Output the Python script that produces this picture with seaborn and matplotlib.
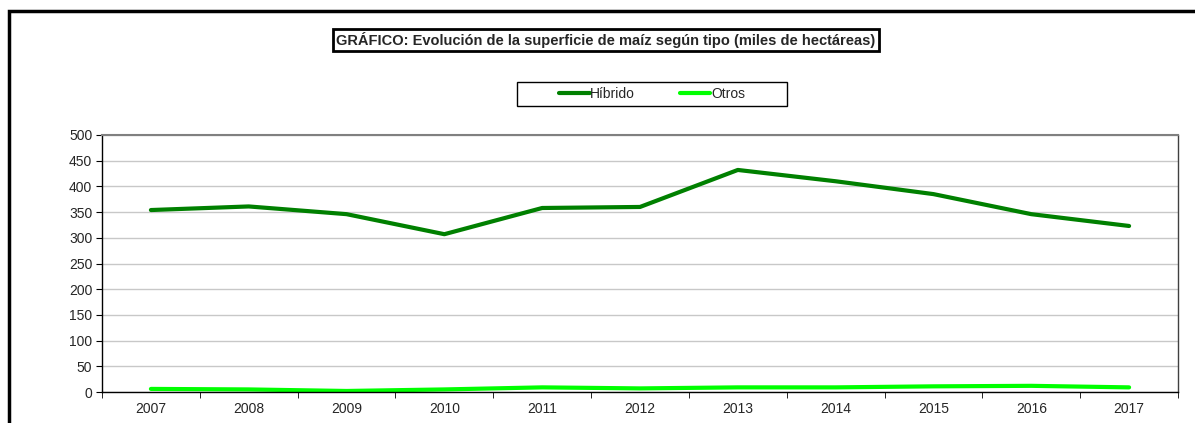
import matplotlib
matplotlib.use("Agg")
import matplotlib.pyplot as plt
import matplotlib.patches as mpatches
import seaborn as sns
import pandas as pd
import numpy as np

years = ["2007", "2008", "2009", "2010", "2011", "2012", "2013", "2014", "2015", "2016", "2017"]
hibrido = [354, 361, 346, 307, 358, 360, 432, 410, 385, 346, 323]
otros = [6, 5, 2, 5, 9, 7, 9, 9, 11, 12, 9]

sns.set_style("white")
plt.rcParams['font.family'] = ['Liberation Sans', 'DejaVu Sans']

df = pd.DataFrame({"pos": np.arange(len(years)), "Híbrido": hibrido, "Otros": otros})
long = df.melt(id_vars="pos", var_name="tipo", value_name="valor")

W, H = 1195, 423
fig = plt.figure(figsize=(W / 100, H / 100), dpi=100)
ax = fig.add_axes([102 / W, 1 - 392 / H, (1178 - 102) / W, (392 - 135) / H])

sns.lineplot(data=long, x="pos", y="valor", hue="tipo",
             palette={"Híbrido": "#008000", "Otros": "#00ff00"},
             linewidth=3, ax=ax, legend=False)

ax.set_xlim(-0.5, len(years) - 0.5)
ax.set_ylim(0, 500)
ax.set_yticks(range(0, 501, 50))
ax.set_xticks(np.arange(len(years)))
ax.set_xticklabels(years)
ax.set_xticks(np.arange(-0.5, len(years), 1), minor=True)
ax.tick_params(axis="x", which="major", length=0, labelsize=10, pad=7)
ax.tick_params(axis="x", which="minor", length=4, color="black", direction="out", bottom=True)
ax.tick_params(axis="y", length=4, color="black", labelsize=10, left=True, direction="out", pad=3)
ax.set_xlabel("")
ax.set_ylabel("")
ax.yaxis.grid(True, color="#c8c8c8", linewidth=1)
ax.set_axisbelow(True)

ax.spines["left"].set_color("black")
ax.spines["bottom"].set_color("black")
ax.spines["top"].set_color("#808080")
ax.spines["right"].set_color("#404040")
for s in ax.spines.values():
    s.set_linewidth(1)
ax.spines["top"].set_linewidth(1.5)

# outer chart border (left and top visible)
border = mpatches.Rectangle((9 / W, -0.05), 1.2, 1 - 11 / H + 0.05,
                            transform=fig.transFigure, fill=False,
                            edgecolor="black", linewidth=2.5)
fig.patches.append(border)

fig.text(606 / W, 1 - 40 / H,
         "GRÁFICO: Evolución de la superficie de maíz según tipo (miles de hectáreas)",
         ha="center", va="center", fontsize=10.5, fontweight="bold",
         bbox=dict(boxstyle="square,pad=0.2", facecolor="white",
                   edgecolor="black", linewidth=2))

# legend frame
frame = mpatches.Rectangle((517 / W, 1 - 106 / H), 270 / W, 24 / H,
                           transform=fig.transFigure, fill=False,
                           edgecolor="black", linewidth=1)
fig.patches.append(frame)

handles = [plt.Line2D([], [], color="#008000", linewidth=3),
           plt.Line2D([], [], color="#00ff00", linewidth=3)]
fig.legend(handles, ["Híbrido", "Otros"], loc="center",
           bbox_to_anchor=(652 / W, 1 - 94 / H), ncol=2,
           fontsize=10, frameon=False, handlelength=2.2,
           handletextpad=0.05, columnspacing=3.2, borderpad=0,
           borderaxespad=0)

fig.savefig("out.png", dpi=100)
